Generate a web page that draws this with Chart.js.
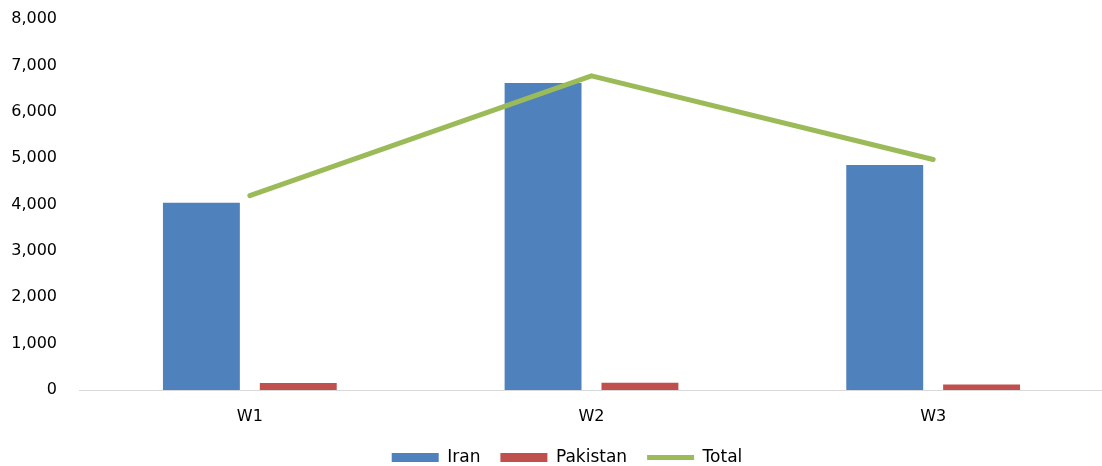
<!DOCTYPE html>
<html>
<head>
<meta charset="utf-8">
<script src="https://cdn.jsdelivr.net/npm/chart.js@4"></script>
<style>
html,body{margin:0;padding:0;background:#fff;overflow:hidden;}
#wrap{position:relative;width:1104px;height:466px;}
</style>
</head>
<body>
<div id="wrap"><canvas id="c"></canvas></div>
<script>
const categories = ["W1", "W2", "W3"];
const iran = [4040, 6620, 4850];
const pakistan = [150, 155, 120];
const total = [4190, 6775, 4970];
const yTicks = [0, 1000, 2000, 3000, 4000, 5000, 6000, 7000, 8000];

Chart.defaults.font.family = "'DejaVu Sans', sans-serif";
Chart.defaults.font.size = 16;
Chart.defaults.color = "#000";

const unclipY = {
  id: "unclipY",
  afterLayout(chart) { if (chart.scales.y) chart.scales.y.left = 0; }
};

new Chart(document.getElementById("c"), {
  type: "bar",
  plugins: [unclipY],
  data: {
    labels: categories,
    datasets: [
      {
        type: "line",
        label: "Total",
        data: total,
        borderColor: "#9bbb59",
        backgroundColor: "#9bbb59",
        borderWidth: 5,
        borderCapStyle: "round",
        borderJoinStyle: "round",
        pointRadius: 0,
        pointHoverRadius: 0,
        pointStyle: "line",
        tension: 0,
        order: 0
      },
      {
        label: "Iran",
        data: iran,
        backgroundColor: "#4f81bd",
        borderWidth: 0,
        pointStyle: "rect",
        categoryPercentage: 0.567,
        barPercentage: 0.794,
        order: 1
      },
      {
        label: "Pakistan",
        data: pakistan,
        backgroundColor: "#c0504d",
        borderWidth: 0,
        pointStyle: "rect",
        categoryPercentage: 0.567,
        barPercentage: 0.794,
        order: 1
      }
    ]
  },
  options: {
    responsive: true,
    maintainAspectRatio: false,
    animation: false,
    layout: { padding: { left: 30, right: 0, top: 19, bottom: -10 } },
    plugins: {
      tooltip: { enabled: false },
      legend: {
        position: "bottom",
        labels: {
          usePointStyle: true,
          pointStyleWidth: 47,
          boxHeight: 9,
          padding: 20,
          color: "#000",
          font: { size: 17 },
          sort: (a, b) => {
            const ord = { "Iran": 0, "Pakistan": 1, "Total": 2 };
            return ord[a.text] - ord[b.text];
          }
        }
      }
    },
    scales: {
      x: {
        offset: true,
        grid: { display: false, drawTicks: false },
        border: { display: true, color: "#d9d9d9", width: 1 },
        ticks: { padding: 17, color: "#000" },
        afterFit: (axis) => { axis.height = 39; }
      },
      y: {
        min: 0,
        max: 8000,
        afterBuildTicks: (axis) => { axis.ticks = yTicks.map(v => ({ value: v })); },
        afterFit: (axis) => { axis.width = 49; axis.paddingTop = 0; axis.paddingBottom = 0; },
        grid: { display: false, drawTicks: false },
        border: { display: false },
        ticks: {
          padding: 22,
          color: "#000",
          callback: (v) => Number(v).toLocaleString("en-US")
        }
      }
    }
  }
});
</script>
</body>
</html>
